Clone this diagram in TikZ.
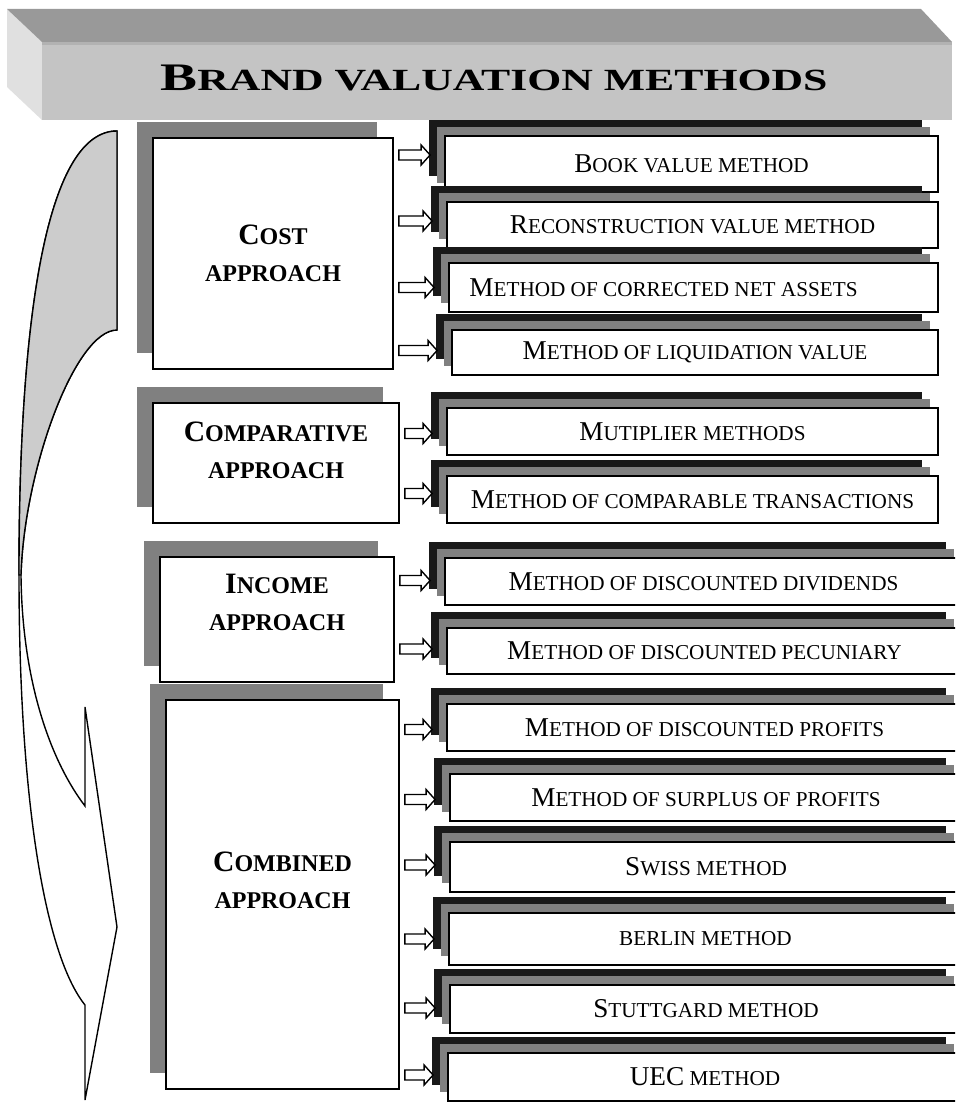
\documentclass[tikz,border=0pt]{standalone}
\usepackage{fontspec}
\usepackage{graphicx}
\setmainfont{Liberation Serif}
\usetikzlibrary{calc,shadows}

% fake small caps: big first letter, smaller capitals after it
\newcommand{\mt}[2]{{\fontsize{13.6}{16}\selectfont #1}{\fontsize{10.6}{16}\selectfont #2}}
\newcommand{\apt}[2]{{\fontsize{14.8}{18.5}\selectfont #1}{\fontsize{12}{18.5}\selectfont #2}}
\newcommand{\ttl}[2]{{\fontsize{19.5}{22}\selectfont #1}{\fontsize{15.4}{22}\selectfont #2}}

\begin{document}
\begin{tikzpicture}[x=0.5pt,y=-0.5pt,
  methbox/.style={draw,line width=0.9pt,fill=white,inner sep=0pt,
    general shadow={fill=black!90,shadow xshift=-8pt,shadow yshift=8pt},
    general shadow={fill=black!50,shadow xshift=-4pt,shadow yshift=4.5pt}},
  appbox/.style={draw,line width=0.9pt,fill=white,inner sep=0pt,
    general shadow={fill=black!50,shadow xshift=-8pt,shadow yshift=8pt}},
  apptext/.style={align=center,font=\fontsize{12}{18.5}\selectfont\bfseries},
  blockarr/.style={draw,fill=white,line width=0.7pt,
    to path={let \p1=(\tikztostart), \p2=(\tikztotarget) in
      (\x1+2.5pt,\y2+2.5pt) -- (\x2-11.5pt,\y2+2.5pt) -- (\x2-11.5pt,\y2+5pt)
      -- (\x2-7pt,\y2) -- (\x2-11.5pt,\y2-5pt) -- (\x2-11.5pt,\y2-2.5pt)
      -- (\x1+2.5pt,\y2-2.5pt) -- cycle}}]
  \clip (0,0) rectangle (955,1102);
  \fill[white] (0,0) rectangle (955,1102);

  % title banner
  \fill[black!12] (7,9) -- (42,42) -- (42,120) -- (7,87) -- cycle;
  \fill[black!40] (7,9) -- (921,9) -- (952,42) -- (42,42) -- cycle;
  \fill[black!23] (42,42) rectangle (952,120);
  \fill[black!30] (42,42) rectangle (952,45);
  \node (title) at (494,78) {\scalebox{1.42}[1]{\bfseries\ttl{B}{RAND VALUATION METHODS}}};

  % curved arrow on the left
  \filldraw[fill=white,line width=0.7pt] (117,131) .. controls (50,131) and (19,300) .. (19,575)
    .. controls (19,800) and (45,955) .. (85,1005) -- (85,1100) -- (117,927) -- (85,707)
    -- (85,806) .. controls (50,760) and (22,680) .. (21,575)
    .. controls (24,470) and (75,330) .. (117,330) -- cycle;
  \filldraw[fill=black!20,line width=0.7pt] (117,131) .. controls (50,131) and (19,300) .. (19,575)
    -- (21,575) .. controls (24,470) and (75,330) .. (117,330) -- cycle;

  % approaches
  \node[appbox,minimum width=120pt,minimum height=115.5pt] (cost) at (273,253.5) {};
  \node[apptext] (costtxt) at (cost.center) {\apt{C}{OST}\\\apt{}{APPROACH}};
  \node[appbox,minimum width=123pt,minimum height=60pt] (comp) at (276,463) {};
  \node[apptext] (comptxt) at ([yshift=6.5pt]comp.center) {\apt{C}{OMPARATIVE}\\\apt{}{APPROACH}};
  \node[appbox,minimum width=117pt,minimum height=62.5pt] (inc) at (277,619.5) {};
  \node[apptext] (inctxt) at ([yshift=8.5pt]inc.center) {\apt{I}{NCOME}\\\apt{}{APPROACH}};
  \node[appbox,minimum width=116.5pt,minimum height=194.5pt] (comb) at (282.5,894.5) {};
  \node[apptext] (combtxt) at ([yshift=7pt]comb.center) {\apt{C}{OMBINED}\\\apt{}{APPROACH}};

  % methods
  \foreach \n/\xa/\ya/\xb/\yb/\dx/\txt in {
    1/445/136/938/192/0/{\mt{B}{OOK VALUE METHOD}},
    2/447/202/938/248/0/{\mt{R}{ECONSTRUCTION VALUE METHOD}},
    3/449/263/938/312/-30/{\mt{M}{ETHOD OF CORRECTED NET ASSETS}},
    4/452/330/938/375/0/{\mt{M}{ETHOD OF LIQUIDATION VALUE}},
    5/447/408/938/455/0/{\mt{M}{UTIPLIER METHODS}},
    6/447/476/938/523/0/{\mt{M}{ETHOD OF COMPARABLE TRANSACTIONS}},
    7/445/558/962/605/0/{\mt{M}{ETHOD OF DISCOUNTED DIVIDENDS}},
    8/447/628/962/674/0/{\mt{M}{ETHOD OF DISCOUNTED PECUNIARY}},
    9/447/704/962/751/0/{\mt{M}{ETHOD OF DISCOUNTED PROFITS}},
    10/450/774/962/821/0/{\mt{M}{ETHOD OF SURPLUS OF PROFITS}},
    11/450/842/962/892/0/{\mt{S}{WISS METHOD}},
    12/449/913/962/965/0/{\mt{}{BERLIN METHOD}},
    13/450/985/962/1033/0/{\mt{S}{TUTTGARD METHOD}},
    14/448/1053/962/1101/0/{\mt{UEC}{ METHOD}}}{
    \node[methbox,minimum width={(\xb-\xa)*0.5pt},minimum height={(\yb-\ya)*0.5pt}]
      (m\n) at ({(\xa+\xb)/2},{(\ya+\yb)/2}) {\hspace*{\dx pt}\txt};
  }

  % arrows from approaches to methods
  \foreach \a/\m/\dy in {cost/1/4.5,cost/2/2,cost/3/0,cost/4/1,comp/5/-1,comp/6/3,inc/7/0.5,inc/8/1,
      comb/9/-1,comb/10/-1,comb/11/1,comb/12/0,comb/13/0.5,comb/14/1}
    \draw[blockarr] (\a.east) to ([yshift=\dy pt]m\m.west);
\end{tikzpicture}
\end{document}
